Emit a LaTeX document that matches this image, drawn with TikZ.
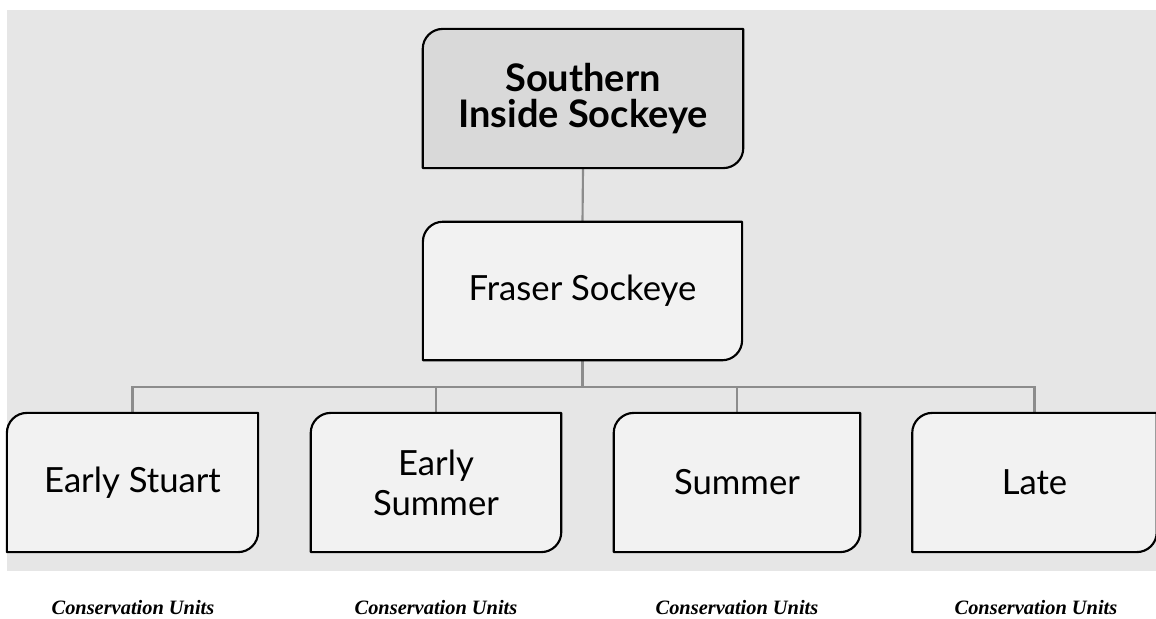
\documentclass[tikz,border=0pt]{standalone}
\usepackage{fontspec}
\setmainfont{Lato}
\newfontfamily\cuserif{Liberation Serif}
\usetikzlibrary{positioning}
\pgfdeclarelayer{bg}
\pgfdeclarelayer{shapes}
\pgfsetlayers{bg,shapes,main}
\definecolor{bggray}{HTML}{E6E6E6}
\definecolor{boxfill}{HTML}{F2F2F2}
\definecolor{topfill}{HTML}{D9D9D9}
\definecolor{connc}{HTML}{8C8C8C}
\tikzset{
  unitbox/.style={rectangle, inner sep=0pt, align=center, font=\fontsize{26}{30}\selectfont},
  conn/.style={draw=connc, line width=1.6pt},
  border/.style={draw=black, line width=1.6pt, line join=round},
  culabel/.style={inner sep=0pt, font=\cuserif\bfseries\itshape\fontsize{15.3}{17}\selectfont},
}
\newcommand{\leafshape}[3]{% node, fill, radius
  \draw[border, fill=#2] (#1.north east) -- ([xshift=#3]#1.north west)
    arc[start angle=90, end angle=180, radius=#3] -- (#1.south west)
    -- ([xshift=-#3]#1.south east)
    arc[start angle=270, end angle=360, radius=#3] -- cycle;}
\begin{document}
\begin{tikzpicture}[x=0.75pt, y=-0.75pt]
\useasboundingbox (0,0) rectangle (1156,618);
\begin{pgfonlayer}{bg}
  \fill[bggray] (7,10) rectangle (1160,571);
\end{pgfonlayer}

\node[unitbox, minimum width=240pt, minimum height=104pt,
      font=\bfseries\fontsize{28.5}{27}\selectfont] (top) at (583,98.5) {Southern\\Inside Sockeye};
\node[unitbox, minimum width=239pt, minimum height=103.5pt] (fraser) at (582.5,291) {Fraser Sockeye};
\node[unitbox, minimum width=188pt, minimum height=104pt] (es) at (132.5,482.5) {Early Stuart};
\node[unitbox, minimum width=187.5pt, minimum height=104pt] (esum) at (436,482.5) {Early\\Summer};
\node[unitbox, minimum width=184.5pt, minimum height=104pt] (sum) at (737,482.5) {Summer};
\node[unitbox, minimum width=183pt, minimum height=104pt] (late) at (1034.5,482.5) {Late};

\begin{pgfonlayer}{shapes}
  \leafshape{top}{topfill}{15pt}
  \leafshape{fraser}{boxfill}{15pt}
  \leafshape{es}{boxfill}{15pt}
  \leafshape{esum}{boxfill}{15pt}
  \leafshape{sum}{boxfill}{15pt}
  \leafshape{late}{boxfill}{15pt}
\end{pgfonlayer}

\coordinate (bus) at (582.5,387);
\begin{pgfonlayer}{bg}
  \draw[conn] (top.south) -- (fraser.north);
  \draw[conn] (fraser.south) -- (bus);
  \draw[conn] (bus) -| (es.north);
  \draw[conn] (bus) -| (esum.north);
  \draw[conn] (bus) -| (sum.north);
  \draw[conn] (bus) -| (late.north);
\end{pgfonlayer}

\node[culabel] (cu1) at (133,608) {Conservation Units};
\node[culabel] (cu2) at (436,608) {Conservation Units};
\node[culabel] (cu3) at (737,608) {Conservation Units};
\node[culabel] (cu4) at (1036,608) {Conservation Units};
\end{tikzpicture}
\end{document}
